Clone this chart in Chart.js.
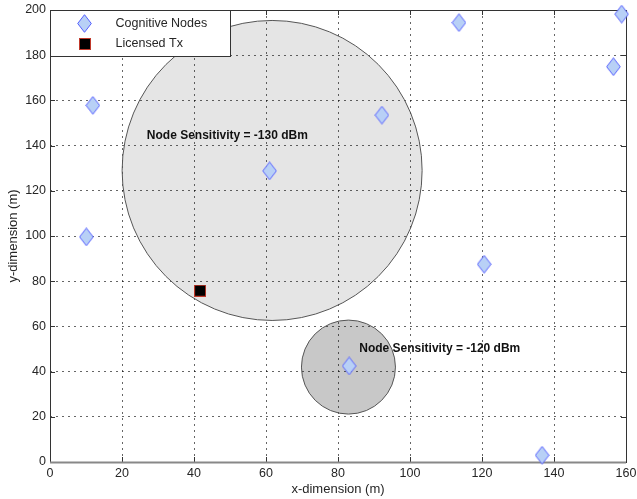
<!DOCTYPE html>
<html>
<head>
<meta charset="utf-8">
<script src="https://cdn.jsdelivr.net/npm/chart.js@4.4.1/dist/chart.umd.min.js"></script>
<style>
  html, body { margin: 0; padding: 0; background: #fff; }
  #wrap { width: 637px; height: 499px; }
</style>
</head>
<body>
<div id="wrap"><canvas id="myChart" width="637" height="499"></canvas></div>
<script>
// node positions (m)
const nodeX = [11.9, 10.1, 61.0, 92.2, 113.6, 120.6, 156.5, 158.8, 136.7, 83.1];
const nodeY = [157.8, 99.6, 128.8, 153.5, 194.4, 87.5, 174.9, 198.2, 3.0, 42.5];
// licensed transmitter
const txX = [41.7];
const txY = [75.8];
// sensitivity circles (r is bubble radius)
const coverX = [61.7, 82.9];
const coverY = [129.0, 42.0];
const coverR = [150, 47];
const coverFill = ['rgba(0,0,0,0.10)', 'rgba(0,0,0,0.215)'];
// text labels
const labelText = ['Node Sensitivity = -130 dBm', 'Node Sensitivity = -120 dBm'];
const labelX = [26.9, 85.9];
const labelY = [144.2, 50.3];
// axis ticks
const xTicks = [0, 20, 40, 60, 80, 100, 120, 140, 160];
const yTicks = [0, 20, 40, 60, 80, 100, 120, 140, 160, 180, 200];

const FONT = '"Liberation Sans", Arial, Helvetica, sans-serif';
const TEXT = '#262626';

// matlab style diamond marker
function makeDiamond() {
  const c = document.createElement('canvas');
  c.width = 15; c.height = 19;
  const g = c.getContext('2d');
  g.beginPath();
  g.moveTo(7.5, 0.7);
  g.lineTo(14.3, 9.5);
  g.lineTo(7.5, 18.3);
  g.lineTo(0.7, 9.5);
  g.closePath();
  g.fillStyle = 'rgb(184,208,246)';
  g.fill();
  g.strokeStyle = 'rgb(85,95,255)';
  g.lineWidth = 1;
  g.stroke();
  return c;
}

function makeSquare() {
  const c = document.createElement('canvas');
  c.width = 12; c.height = 12;
  const g = c.getContext('2d');
  g.fillStyle = '#000';
  g.fillRect(0.5, 0.5, 11, 11);
  g.strokeStyle = '#c0392b';
  g.lineWidth = 1;
  g.strokeRect(0.5, 0.5, 11, 11);
  return c;
}

const diamond = makeDiamond();
const square = makeSquare();

const circleData = coverX.map((x, i) => ({ x: x, y: coverY[i], r: coverR[i] }));

// box, inward ticks, text labels and legend
const matlabAxes = {
  id: 'matlabAxes',
  beforeDatasetsDraw(chart) {
    const ctx = chart.ctx;
    const a = chart.chartArea;
    const xs = chart.scales.x, ys = chart.scales.y;
    ctx.save();
    ctx.strokeStyle = '#333';
    ctx.lineWidth = 1;
    ctx.beginPath();
    xTicks.forEach(v => {
      const px = Math.round(xs.getPixelForValue(v)) + 0.5;
      ctx.moveTo(px, a.bottom); ctx.lineTo(px, a.bottom - 5);
      ctx.moveTo(px, a.top); ctx.lineTo(px, a.top + 5);
    });
    yTicks.forEach(v => {
      const py = Math.round(ys.getPixelForValue(v)) + 0.5;
      ctx.moveTo(a.left, py); ctx.lineTo(a.left + 5, py);
      ctx.moveTo(a.right, py); ctx.lineTo(a.right - 5, py);
    });
    ctx.stroke();
    ctx.strokeRect(Math.round(a.left) + 0.5, Math.round(a.top) + 0.5,
      Math.round(a.right - a.left), Math.round(a.bottom - a.top));
    ctx.strokeStyle = '#888';
    ctx.lineWidth = 2;
    ctx.beginPath();
    ctx.moveTo(a.left, Math.round(a.bottom) + 0.5);
    ctx.lineTo(a.right, Math.round(a.bottom) + 0.5);
    ctx.stroke();
    ctx.restore();
  },
  afterDatasetsDraw(chart) {
    const ctx = chart.ctx;
    const xs = chart.scales.x, ys = chart.scales.y;
    ctx.save();
    ctx.font = 'bold 12px ' + FONT;
    ctx.fillStyle = '#111';
    ctx.textAlign = 'left';
    ctx.textBaseline = 'middle';
    labelText.forEach((t, i) => {
      ctx.fillText(t, xs.getPixelForValue(labelX[i]), ys.getPixelForValue(labelY[i]));
    });
    ctx.restore();
  },
  afterDraw(chart) {
    const ctx = chart.ctx;
    const a = chart.chartArea;
    const items = chart.data.datasets.filter(d => d.inLegend);
    ctx.save();
    ctx.fillStyle = '#fff';
    ctx.strokeStyle = '#333';
    ctx.lineWidth = 1;
    const bx = Math.round(a.left) + 0.5, by = Math.round(a.top) + 0.5;
    ctx.fillRect(bx, by, 180, 46);
    ctx.strokeRect(bx, by, 180, 46);
    ctx.font = '12.5px ' + FONT;
    ctx.fillStyle = TEXT;
    ctx.textBaseline = 'middle';
    items.forEach((d, i) => {
      const cy = by + 13 + i * 20;
      const img = d.pointStyle;
      ctx.drawImage(img, Math.round(bx + 34 - img.width / 2), Math.round(cy - img.height / 2));
      ctx.fillText(d.label, bx + 65, cy);
    });
    ctx.restore();
  }
};

const ctx = document.getElementById('myChart').getContext('2d');
const myChart = new Chart(ctx, {
  type: 'scatter',
  data: {
    datasets: [
      {
        type: 'bubble',
        label: 'coverage',
        data: circleData,
        backgroundColor: coverFill,
        borderColor: '#555',
        borderWidth: 1,
        order: 5,
        clip: false
      },
      {
        label: 'Cognitive Nodes',
        inLegend: true,
        data: nodeX.map((x, i) => ({ x: x, y: nodeY[i] })),
        pointStyle: diamond,
        order: 2,
        clip: false
      },
      {
        label: 'Licensed Tx',
        inLegend: true,
        data: txX.map((x, i) => ({ x: x, y: txY[i] })),
        pointStyle: square,
        order: 1,
        clip: false
      }
    ]
  },
  options: {
    responsive: false,
    animation: false,
    events: [],
    layout: { autoPadding: false, padding: { top: 10, right: 11, left: 0, bottom: 0 } },
    plugins: {
      legend: { display: false },
      tooltip: { enabled: false }
    },
    scales: {
      x: {
        type: 'linear',
        min: 0, max: 160,
        afterFit: s => { s.height = 37; s.paddingLeft = 0; s.paddingRight = 0; },
        border: { display: false, dash: [2, 4] },
        grid: {
          color: 'rgba(0,0,0,0.6)',
          drawTicks: false,
          tickLength: 0
        },
        ticks: {
          stepSize: 20,
          padding: 4,
          color: TEXT,
          font: { family: FONT, size: 12.5 },
          maxRotation: 0
        },
        title: {
          display: true,
          text: 'x-dimension (m)',
          color: TEXT,
          font: { family: FONT, size: 13 },
          padding: { top: 0, bottom: 2 }
        }
      },
      y: {
        type: 'linear',
        min: 0, max: 200,
        afterFit: s => { s.width = 50; s.paddingTop = 0; s.paddingBottom = 0; },
        border: { display: false, dash: [2, 4] },
        grid: {
          color: 'rgba(0,0,0,0.6)',
          drawTicks: false,
          tickLength: 0
        },
        ticks: {
          stepSize: 20,
          padding: 4,
          color: TEXT,
          font: { family: FONT, size: 12.5 }
        },
        title: {
          display: true,
          text: 'y-dimension (m)',
          color: TEXT,
          font: { family: FONT, size: 13 },
          padding: { top: 6, bottom: 0 }
        }
      }
    }
  },
  plugins: [matlabAxes]
});
</script>
</body>
</html>
